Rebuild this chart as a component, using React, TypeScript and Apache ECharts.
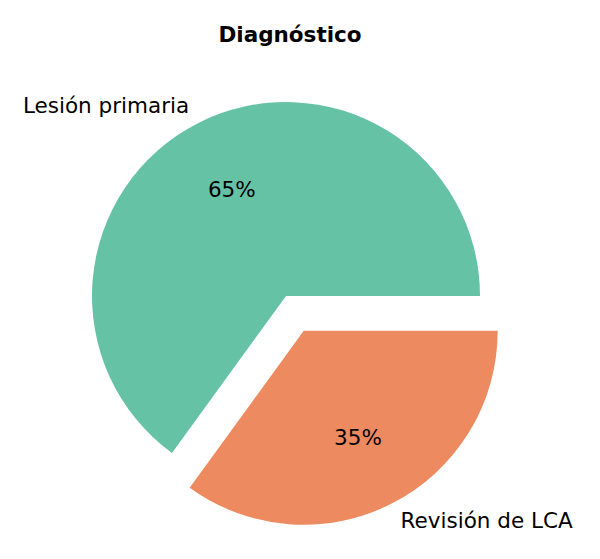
import React, { useEffect, useRef } from "react";
import * as echarts from "echarts";

const titleText = "Diagnóstico";
const categories = ["Lesión primaria", "Revisión de LCA"];
const values = [65, 35];
const colors = ["#66c2a5", "#ee8a60"];
const exploded = [false, true];

export default function App() {
  const ref = useRef<HTMLDivElement>(null);
  useEffect(() => {
    if (!ref.current) return;
    const chart = echarts.init(ref.current, undefined, { renderer: "svg" });
    const R = 194;
    const center = [286, 296];
    const offset = Math.round(0.2 * R);
    const font = "DejaVu Sans";
    const data = categories.map((name, i) => ({
      name,
      value: values[i],
      selected: exploded[i],
      itemStyle: { color: colors[i] },
    }));
    const total = values.reduce((a, b) => a + b, 0);
    chart.setOption({
      animation: false,
      title: {
        text: titleText,
        left: 285,
        top: 18,
        textAlign: "center",
        textStyle: { fontFamily: font, fontWeight: "bold", fontSize: 21.5, color: "#000" },
      },
      series: [
        {
          type: "pie",
          center,
          radius: [0, R],
          startAngle: 0,
          clockwise: false,
          selectedMode: "multiple",
          selectedOffset: offset,
          avoidLabelOverlap: false,
          silent: true,
          data,
          label: {
            show: true,
            position: "outside",
            formatter: "{b}",
            fontFamily: font,
            fontSize: 21.5,
            color: "#000",
            distanceToLabelLine: 0,
          },
          labelLine: { show: false, length: 0.1 * R, length2: 0 },
          emphasis: { disabled: true },
        },
        {
          type: "pie",
          center,
          radius: [0, 1.2 * R],
          startAngle: 0,
          clockwise: false,
          selectedMode: "multiple",
          selectedOffset: offset,
          avoidLabelOverlap: false,
          silent: true,
          data: data.map((d) => ({ ...d, itemStyle: { color: "rgba(0,0,0,0)" } })),
          label: {
            show: true,
            position: "inside",
            formatter: (p: any) => Math.round((p.value / total) * 100) + "%",
            fontFamily: font,
            fontSize: 21.5,
            color: "#000",
          },
          labelLine: { show: false },
          emphasis: { disabled: true },
        },
      ],
    });
    return () => chart.dispose();
  }, []);
  return (
    <div
      ref={ref}
      style={{ position: "absolute", left: 0, top: 0, width: 600, height: 559, background: "#fff" }}
    />
  );
}
